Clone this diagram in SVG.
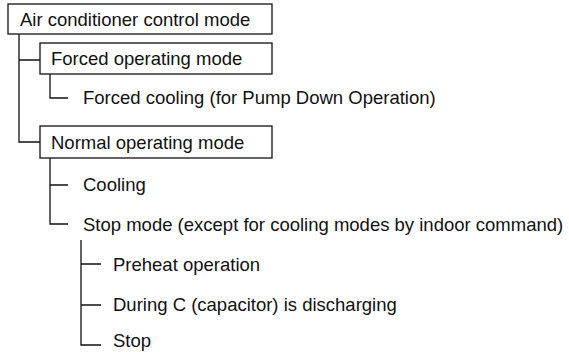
<svg xmlns="http://www.w3.org/2000/svg" width="569" height="352" viewBox="0 0 569 352">
<style>
text{font-family:"Liberation Sans",Arial,sans-serif;font-size:18.5px;fill:#111}
.box{fill:#fff;stroke:#111;stroke-width:1.3}
.ln{fill:none;stroke:#111;stroke-width:1.3}
</style>
<rect width="569" height="352" fill="#fff"/>
<g id="connectors">
<path class="ln" d="M19 34V142H40M19 60H40"/>
<path class="ln" d="M50 74V98H68"/>
<path class="ln" d="M50 158V224H68M50 185H68"/>
<path class="ln" d="M81 240V345H101M81 264H101M81 305H101"/>
</g>
<g id="n1"><rect class="box" x="8" y="4" width="264" height="30"/><text x="20" y="26">Air conditioner control mode</text></g>
<g id="n2"><rect class="box" x="40" y="43" width="232" height="31"/><text x="51" y="65">Forced operating mode</text></g>
<g id="n3"><text x="83" y="104">Forced cooling (for Pump Down Operation)</text></g>
<g id="n4"><rect class="box" x="40" y="126" width="232" height="32"/><text x="51" y="149">Normal operating mode</text></g>
<g id="n5"><text x="83" y="191">Cooling</text></g>
<g id="n6"><text x="83" y="231">Stop mode (except for cooling modes by indoor command)</text></g>
<g id="n7"><text x="113" y="271">Preheat operation</text></g>
<g id="n8"><text x="113" y="311">During C (capacitor) is discharging</text></g>
<g id="n9"><text x="113" y="347">Stop</text></g>
</svg>
